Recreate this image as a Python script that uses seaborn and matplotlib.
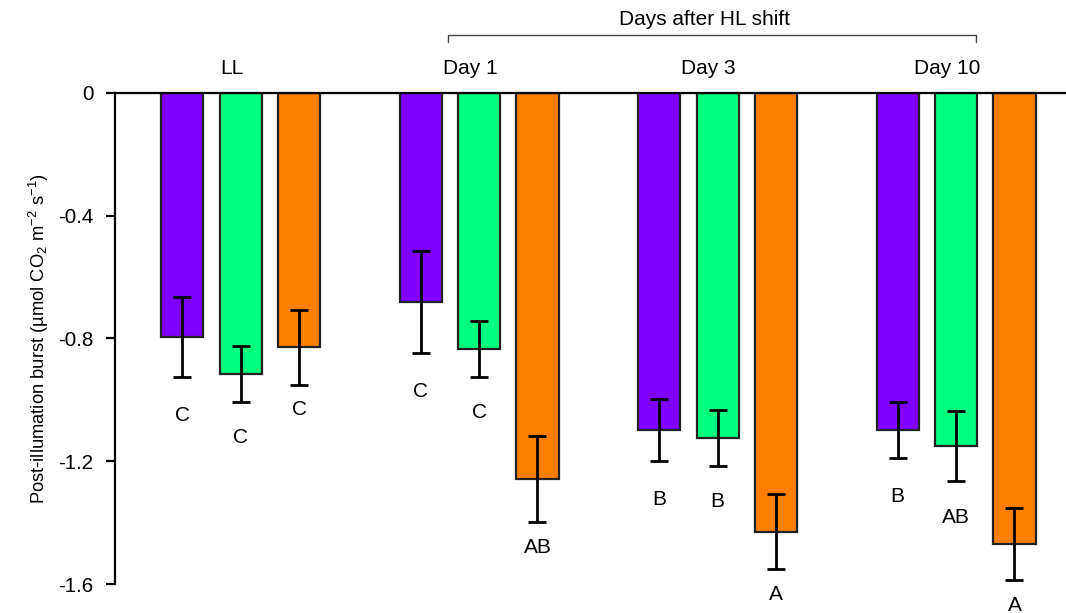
import matplotlib
matplotlib.use("Agg")
import matplotlib.pyplot as plt
import matplotlib.transforms as mtransforms
import numpy as np
import pandas as pd
import seaborn as sns

# ── Data ────────────────────────────────────────────────────────────
groups = ["LL", "Day 1", "Day 3", "Day 10"]
series = ["s1", "s2", "s3"]
means_s1 = [-0.795, -0.681, -1.098, -1.098]
means_s2 = [-0.916, -0.834, -1.124, -1.150]
means_s3 = [-0.828, -1.258, -1.430, -1.470]
err_s1 = [0.130, 0.165, 0.100, 0.090]
err_s2 = [0.090, 0.090, 0.090, 0.115]
err_s3 = [0.122, 0.140, 0.122, 0.117]
letters_s1 = ["C", "C", "B", "B"]
letters_s2 = ["C", "C", "B", "AB"]
letters_s3 = ["C", "AB", "A", "A"]
y_ticks = [0, -0.4, -0.8, -1.2, -1.6]

SERIES_COLORS = {"s1": "#8000FF", "s2": "#00FF80", "s3": "#FF8000"}
LETTER_OFFSET = {"s1": 28, "s2": 26, "s3": 18}  # points below error bar end

rows = []
for s, m, e, l in zip(series,
                      [means_s1, means_s2, means_s3],
                      [err_s1, err_s2, err_s3],
                      [letters_s1, letters_s2, letters_s3]):
    for g, mv, ev, lv in zip(groups, m, e, l):
        rows.append({"Group": g, "Series": s, "Value": mv, "Err": ev, "Letter": lv})
df = pd.DataFrame(rows)

# ── Theme ────────────────────────────────────────────────────────────
sns.set_theme(style="white")
plt.rcParams["font.family"] = ["Liberation Sans", "DejaVu Sans"]
plt.rcParams.update({
    "axes.unicode_minus": False,
    "text.color": "black",
    "axes.labelcolor": "black",
    "xtick.color": "black",
    "ytick.color": "black",
    "mathtext.fontset": "custom",
    "mathtext.rm": "Liberation Sans",
    "mathtext.default": "regular",
})

fig = plt.figure(figsize=(10.66, 6.13), dpi=100)
ax = fig.add_axes([0.108, 0.0473, 0.892, 0.8010])

sns.barplot(
    data=df, x="Group", y="Value", hue="Series", order=groups,
    hue_order=series, palette=SERIES_COLORS, width=0.735, gap=0.28,
    saturation=1, edgecolor="#222222", linewidth=1.6, errorbar=None,
    legend=False, ax=ax,
)

# error bars and significance letters
for cont, s in zip(ax.containers, series):
    sub = df[df["Series"] == s].set_index("Group").loc[groups]
    xs = [b.get_x() + b.get_width() / 2 for b in cont]
    ax.errorbar(xs, sub["Value"], yerr=sub["Err"], fmt="none",
                ecolor="black", elinewidth=2, capsize=6.5, capthick=2, zorder=5)
    for x, v, e, lab in zip(xs, sub["Value"], sub["Err"], sub["Letter"]):
        ax.annotate(lab, (x, v - e), xytext=(0, -LETTER_OFFSET[s]),
                    textcoords="offset points", ha="center", va="center",
                    fontsize=15, annotation_clip=False)

ax.set_ylim(-1.6, 0)
ax.set_xlim(-0.526, 3.461)
ax.set_yticks(y_ticks)
ax.set_yticklabels([f"{t:g}" for t in y_ticks], fontsize=14.8)
ax.tick_params(axis="y", direction="out", length=6.5, width=1.6, pad=9, left=True)

ax.xaxis.tick_top()
ax.set_xticks(range(len(groups)))
ax.set_xticklabels(groups, fontsize=15)
ax.tick_params(axis="x", length=0, pad=11)
shift = mtransforms.ScaledTranslation(-9 / 100, 0, fig.dpi_scale_trans)
for lbl in ax.get_xticklabels():
    lbl.set_transform(lbl.get_transform() + shift)
ax.set_xlabel("")

ax.set_ylabel("Post-illumation burst (µmol CO$_2$ m$^{-2}$ s$^{-1}$)",
              fontsize=13.2, labelpad=5)

for side in ["right", "bottom"]:
    ax.spines[side].set_visible(False)
for side in ["left", "top"]:
    ax.spines[side].set_color("black")
    ax.spines[side].set_linewidth(1.6)

# bracket for "Days after HL shift"
trans = mtransforms.blended_transform_factory(ax.transData, ax.transAxes)
x0, x1 = 1 - 0.13, 3 + 0.084
yb, yt = 1.104, 1.118
ax.plot([x0, x0, x1, x1], [yb, yt, yt, yb], color="#444444", lw=1.0,
        transform=trans, clip_on=False)
ax.text((x0 + x1) / 2 - 0.03, 1.149, "Days after HL shift", transform=trans,
        ha="center", va="center", fontsize=15)

fig.savefig("out.png", dpi=100)
